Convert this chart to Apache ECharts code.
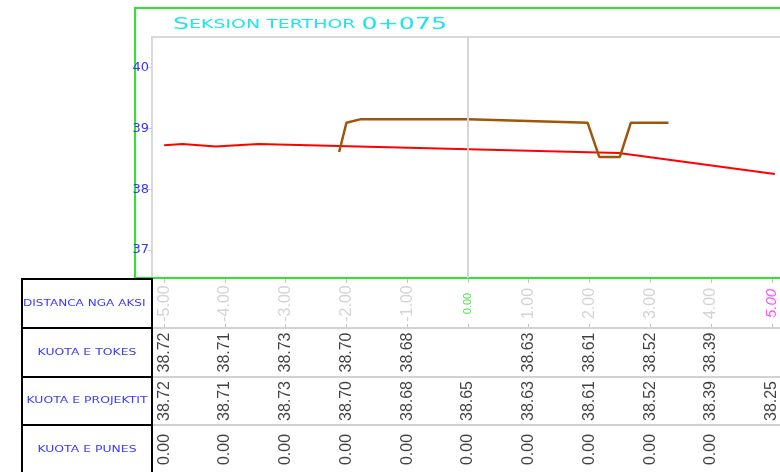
<!DOCTYPE html>
<html>
<head>
<meta charset="utf-8">
<script src="https://cdn.jsdelivr.net/npm/echarts@6/dist/echarts.min.js"></script>
<style>
  html, body { margin: 0; padding: 0; background: #fff; }
  #chart { width: 780px; height: 472px; }
</style>
</head>
<body>
<div id="chart"></div>
<script>
// stations along the cross section
var stations = [-5, -4, -3, -2, -1, 0, 1, 2, 3, 4, 5];
var distLabels = ['-5.00', '-4.00', '-3.00', '-2.00', '-1.00', '0.00', '1.00', '2.00', '3.00', '4.00', '5.00'];
var kuotaTokes = [38.72, 38.71, 38.73, 38.70, 38.68, null, 38.63, 38.61, 38.52, 38.39, null];
var kuotaProjektit = [38.72, 38.71, 38.73, 38.70, 38.68, 38.65, 38.63, 38.61, 38.52, 38.39, 38.25];
var kuotaPunes = [0, 0, 0, 0, 0, 0, 0, 0, 0, 0, null];

// ground profile (red)
var groundX = [-5.0, -4.7, -4.15, -3.45, 2.48, 5.05];
var groundY = [38.72, 38.74, 38.70, 38.74, 38.595, 38.25];
// design profile (brown)
var projX = [-2.12, -2.0, -1.76, 0, 1.97, 2.16, 2.50, 2.68, 3.30];
var projY = [38.61, 39.09, 39.15, 39.15, 39.09, 38.53, 38.53, 39.09, 39.09];

var yTicks = [37, 38, 39, 40];

var XMIN = -5.2, XMAX = 5.3;
var cadFont = 'DejaVu Sans';

function pairs(xs, ys) {
  return xs.map(function(x, i) { return [x, ys[i]]; });
}
function rowData(vals) {
  var out = [];
  vals.forEach(function(v, i) {
    if (v !== null) out.push([stations[i], 0.5, v.toFixed(2)]);
  });
  return out;
}
var distData = stations.map(function(x, i) {
  var key = x === 0 ? 'z' : (x === 5 ? 'm' : 'g');
  return [x, 0.5, '{' + key + '|' + distLabels[i] + '}'];
});

// table rows: [top, height]
var rows = [[279, 49], [328, 49], [377, 48], [425, 49]];
var rowNames = ['DISTANCA NGA AKSI', 'KUOTA E TOKES', 'KUOTA E PROJEKTIT', 'KUOTA E PUNES'];

var grids = [{ left: 152, top: 37, width: 638, height: 241, outerBoundsMode: 'none',
  show: true, borderColor: '#d9d9d9', borderWidth: 2 }];
var xAxes = [{ type: 'value', gridIndex: 0, min: XMIN, max: XMAX, show: false }];
var yAxes = [{
  type: 'value', gridIndex: 0, min: 36.54, max: 40.5, z: 10,
  axisLine: { show: false, onZero: false },
  splitLine: { show: false },
  axisTick: { show: true, customValues: yTicks, length: 4, lineStyle: { color: '#cccccc' } },
  axisLabel: { customValues: yTicks, margin: 3, color: '#3535ff', fontFamily: cadFont, fontSize: 13 }
}];
rows.forEach(function(r, i) {
  grids.push({ left: 152, top: r[0], width: 638, height: r[1], show: false, outerBoundsMode: 'none' });
  xAxes.push({ type: 'value', gridIndex: i + 1, min: XMIN, max: XMAX, show: false });
  yAxes.push({ type: 'value', gridIndex: i + 1, min: 0, max: 1, show: false });
});
// tick marks on top and bottom of the distance row
var tickAxis = function(pos) {
  return {
    type: 'value', gridIndex: 1, min: XMIN, max: XMAX, position: pos,
    axisLine: { show: false, onZero: false }, splitLine: { show: false },
    axisLabel: { show: false },
    axisTick: { show: true, inside: true, length: 4, customValues: stations, lineStyle: { color: '#c4c4c4' } }
  };
};
xAxes.push(tickAxis('top'));
xAxes.push(tickAxis('bottom'));

var valueLabel = {
  show: true, position: 'inside', rotate: 90,
  fontFamily: 'Liberation Sans', fontSize: 16, color: '#111',
  formatter: function(p) { return p.value[2]; }
};

var graphics = [
  { type: 'rect', z: 5, shape: { x: 135, y: 8, width: 700, height: 270 },
    style: { fill: 'none', stroke: '#2ee62e', lineWidth: 2 } },
  { type: 'text', x: 173, y: 33, scaleX: 1.58, z: 50,
    style: {
      text: '{a|S}{b|EKSION TERTHOR }{a|0+075}', verticalAlign: 'bottom',
      rich: {
        a: { fontFamily: cadFont, fontSize: 16, fill: '#19e6ee' },
        b: { fontFamily: cadFont, fontSize: 12, fill: '#19e6ee' }
      }
    } }
];
[328, 377, 425].forEach(function(y) {
  graphics.push({ type: 'line', z: 4, shape: { x1: 152, y1: y, x2: 790, y2: y },
    style: { stroke: '#d2d2d2', lineWidth: 2 } });
});
rows.forEach(function(r, i) {
  graphics.push({ type: 'rect', z: 45, shape: { x: 22, y: r[0], width: 130, height: r[1] + (i === 3 ? 10 : 0) },
    style: { fill: 'none', stroke: '#000', lineWidth: 2 } });
  var left = i === 0;
  graphics.push({ type: 'text', z: 45, x: left ? 23 : 87, y: r[0] + r[1] / 2, scaleX: left ? 1.34 : 1.38,
    style: { text: rowNames[i], fontFamily: cadFont, fontSize: 9, fill: '#3a3aff',
      align: left ? 'left' : 'center', verticalAlign: 'middle' } });
});

var option = {
  backgroundColor: '#fff',
  animation: false,
  grid: grids,
  xAxis: xAxes,
  yAxis: yAxes,
  graphic: { elements: graphics },
  series: [
    {
      type: 'line', xAxisIndex: 0, yAxisIndex: 0, data: pairs(groundX, groundY),
      symbol: 'none', lineStyle: { color: '#ff0000', width: 2 }, z: 3,
      markLine: {
        silent: true, symbol: 'none', label: { show: false },
        lineStyle: { color: '#d6d6d6', width: 2, type: 'solid' },
        data: [{ xAxis: 0 }]
      }
    },
    {
      type: 'line', xAxisIndex: 0, yAxisIndex: 0, data: pairs(projX, projY),
      symbol: 'none', lineStyle: { color: '#a0560a', width: 2.5 }, z: 4
    },
    {
      type: 'scatter', xAxisIndex: 1, yAxisIndex: 1, data: distData, symbolSize: 0,
      label: {
        show: true, position: 'inside', rotate: 90,
        formatter: function(p) { return p.value[2]; },
        rich: {
          g: { color: '#c8c8c8', fontFamily: 'Liberation Sans', fontSize: 16 },
          z: { color: '#22dd22', fontFamily: 'Liberation Sans', fontSize: 11 },
          m: { color: '#ff22ff', fontFamily: 'Liberation Sans', fontSize: 15, fontStyle: 'italic' }
        }
      }
    },
    { type: 'scatter', xAxisIndex: 2, yAxisIndex: 2, data: rowData(kuotaTokes), symbolSize: 0, label: valueLabel },
    { type: 'scatter', xAxisIndex: 3, yAxisIndex: 3, data: rowData(kuotaProjektit), symbolSize: 0, label: valueLabel },
    { type: 'scatter', xAxisIndex: 4, yAxisIndex: 4, data: rowData(kuotaPunes), symbolSize: 0, label: valueLabel }
  ]
};

var chart = echarts.init(document.getElementById('chart'), null, { renderer: 'canvas' });
chart.setOption(option);
</script>
</body>
</html>
